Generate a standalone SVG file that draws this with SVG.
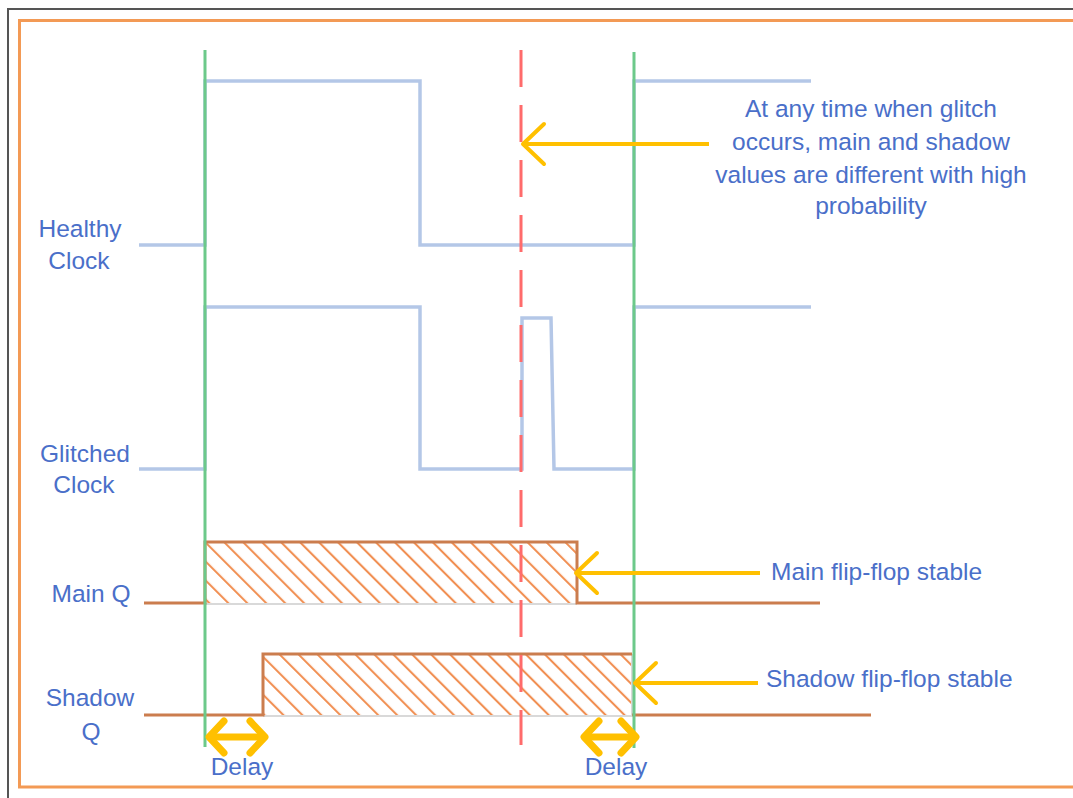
<svg xmlns="http://www.w3.org/2000/svg" width="1073" height="798" viewBox="0 0 1073 798">
  <style>
    .lbl { font-family: "Liberation Sans", Arial, sans-serif; font-size: 24.5px; fill: #4A6FC9; }
    .mid { text-anchor: middle; }
    .clk { fill: none; stroke: #B4C7E7; stroke-width: 3.5; stroke-linejoin: miter; }
    .q { fill: none; stroke: #CB7D4E; stroke-width: 3; }
    .green { stroke: #6CC98A; stroke-width: 3; }
    .arrow { fill: none; stroke: #FFC000; stroke-width: 4; marker-end: url(#chev); }
    .delay { fill: none; stroke: #FFC000; stroke-width: 7; marker-start: url(#dchev); marker-end: url(#dchev); }
  </style>
  <defs>
    <pattern id="hatch" patternUnits="userSpaceOnUse" width="13.4" height="20" patternTransform="rotate(-45)">
      <line x1="3" y1="-1" x2="3" y2="21" stroke="#F08A4B" stroke-width="2"/>
    </pattern>
    <marker id="chev" markerUnits="userSpaceOnUse" markerWidth="60" markerHeight="60" refX="0" refY="0" orient="auto" viewBox="-30 -30 60 60" overflow="visible">
      <path d="M21,-20 L0,0 L21,20" transform="rotate(180)" fill="none" stroke="#FFC000" stroke-width="4" stroke-linecap="round" stroke-linejoin="round"/>
    </marker>
    <marker id="dchev" markerUnits="userSpaceOnUse" markerWidth="60" markerHeight="60" refX="0" refY="0" orient="auto-start-reverse" viewBox="-30 -30 60 60" overflow="visible">
      <path d="M-15,-16 L0,0 L-15,16" fill="none" stroke="#FFC000" stroke-width="7" stroke-linecap="round" stroke-linejoin="round"/>
    </marker>
  </defs>

  <rect width="1073" height="798" fill="#FFFFFF"/>

  <g id="frame">
    <path d="M8,798 V9 H1073" fill="none" stroke="#555555" stroke-width="2"/>
    <path d="M1080,20.5 H19.5 V787 H1080" fill="none" stroke="#F39A55" stroke-width="3"/>
  </g>

  <g id="healthy-clock">
    <path class="clk" d="M139,245 H205 V81 H420 V245 H634 V81 H811"/>
    <text class="lbl mid" x="80" y="237">Healthy</text>
    <text class="lbl mid" x="79" y="269">Clock</text>
  </g>

  <g id="glitched-clock">
    <path class="clk" d="M139,469 H205 V307 H420 V469 H522 V318 H551 L554,469 H634 V307 H811"/>
    <text class="lbl mid" x="85" y="462">Glitched</text>
    <text class="lbl mid" x="84" y="493">Clock</text>
  </g>

  <g id="main-q">
    <rect x="205" y="542" width="372" height="61" fill="url(#hatch)"/>
    <line x1="205" y1="604" x2="577" y2="604" stroke="#D9D9D9" stroke-width="2"/>
    <path class="q" d="M144,603 H205 V542 H577 V603 H820"/>
    <text class="lbl mid" x="91" y="602">Main Q</text>
  </g>

  <g id="shadow-q">
    <rect x="263" y="654" width="369" height="61" fill="url(#hatch)"/>
    <line x1="263" y1="716" x2="632" y2="716" stroke="#D9D9D9" stroke-width="2"/>
    <line x1="632" y1="654" x2="632" y2="715" stroke="#D9D9D9" stroke-width="2"/>
    <path class="q" d="M144,715 H263 V654 H632"/>
    <path class="q" d="M632,715 H871"/>
    <text class="lbl mid" x="90" y="706">Shadow</text>
    <text class="lbl mid" x="91" y="740">Q</text>
  </g>

  <g id="time-markers">
    <line class="green" x1="205" y1="50" x2="205" y2="747"/>
    <line class="green" x1="634" y1="52" x2="634" y2="748"/>
    <line x1="521" y1="50" x2="521" y2="745" stroke="#FF6B6B" stroke-width="3" stroke-dasharray="37 18"/>
  </g>

  <g id="connectors">
    <line class="arrow" x1="709" y1="144" x2="523" y2="144"/>
    <line class="arrow" x1="760" y1="573" x2="576" y2="573"/>
    <line class="arrow" x1="758" y1="683" x2="635" y2="683"/>
    <line class="delay" x1="209" y1="737" x2="265" y2="737"/>
    <line class="delay" x1="584" y1="737" x2="636" y2="737"/>
  </g>

  <g id="annotations">
    <text class="lbl mid" x="871" y="117">At any time when glitch</text>
    <text class="lbl mid" x="871" y="150">occurs, main and shadow</text>
    <text class="lbl mid" x="871" y="183">values are different with high</text>
    <text class="lbl mid" x="871" y="214">probability</text>
    <text class="lbl" x="771" y="580">Main flip-flop stable</text>
    <text class="lbl" x="766" y="687">Shadow flip-flop stable</text>
    <text class="lbl mid" x="242" y="775">Delay</text>
    <text class="lbl mid" x="616" y="775">Delay</text>
  </g>
</svg>
